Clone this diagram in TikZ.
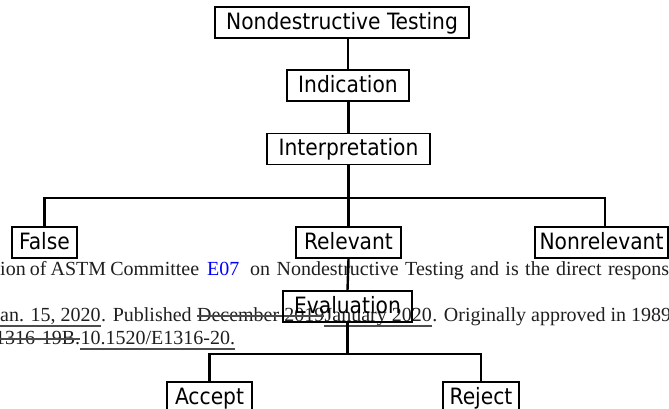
\documentclass[tikz,border=0pt]{standalone}
\usepackage{fontspec}
\setmainfont{Liberation Serif}
\newfontfamily\boxfont{DejaVu Sans Condensed}
\tikzset{
  box/.style={draw=black, line width=1.7pt, inner xsep=2pt, inner ysep=0pt,
    minimum height=31pt, text height=17pt, text depth=3.5pt,
    font=\boxfont\fontsize{22.5}{26}\selectfont},
  conn/.style={draw=black, line width=2.4pt},
  bgtext/.style={anchor=base west, inner sep=0pt, text=black!88,
    font=\fontsize{20}{24}\selectfont},
  markline/.style={draw=black!70, line width=1.2pt}
}
\begin{document}
\begin{tikzpicture}[x=1pt,y=-1pt]
\path[use as bounding box] (0,0) rectangle (669,408);
\clip (0,0) rectangle (669,408);
% background document text
\node[bgtext] (l1a) at (0,275) {\makebox[199pt][s]{ion of ASTM Committee}};
\node[bgtext, text=blue] (l1b) at (207,275) {E07};
\node[bgtext] (l1c) at (250,275) {\spaceskip=6.4pt plus 1pt on Nondestructive Testing and is the direct responsibility};
\node[bgtext] (l2a) at (-7.8,321) {Jan. 15, 2020};
\node[bgtext] (l2b) at (l2a.base east) {. Published};
\node[bgtext] (l2c) at ([xshift=5pt]l2b.base east) {December 2019};
\node[bgtext] (l2d) at (l2c.base east) {January 2020};
\node[bgtext] (l2e) at (l2d.base east) {. Originally approved in 1989. Last};
\node[bgtext] (l3a) at (-17.2,344) {E1316-19B.};
\node[bgtext] (l3b) at (l3a.base east) {10.1520/E1316-20.};
\draw[markline] ([yshift=-5pt]l2a.base west) -- ([yshift=-5pt]l2a.base east);
\draw[markline] ([yshift=5pt]l2c.base west) -- ([yshift=5pt]l2c.base east);
\draw[markline] ([yshift=-5pt]l2d.base west) -- ([yshift=-5pt]l2d.base east);
\draw[markline] ([yshift=5pt]l3a.base west) -- ([yshift=5pt]l3a.base east);
\draw[markline] ([yshift=-5pt]l3b.base west) -- ([yshift=-5pt]l3b.base east);
% diagram boxes
\node[box, minimum width=254pt] (ndt) at (342,22.5) {Nondestructive Testing};
\node[box, minimum width=122pt] (ind) at (348,85.5) {Indication};
\node[box, minimum width=163pt] (interp) at (348.5,149) {Interpretation};
\node[box, minimum width=65pt] (false) at (44.5,242.5) {False};
\node[box, minimum width=105pt] (rel) at (348.5,242.5) {Relevant};
\node[box, minimum width=133pt] (nonrel) at (601.5,242.5) {Nonrelevant};
\node[box, minimum width=129pt] (eval) at (347.5,306.5) {Evaluation};
\node[box, minimum width=85pt] (accept) at (209.5,397.5) {Accept};
\node[box, minimum width=76pt] (reject) at (481,397.5) {Reject};
% connectors
\coordinate (j1) at (348.5,198);
\coordinate (j1r) at (605,198);
\coordinate (j2) at (347.5,354);
\draw[conn] (ind.north) -- (ind.north |- ndt.south);
\draw[conn] (interp.north) -- (interp.north |- ind.south);
\draw[conn] (interp.south) -- (rel.north);
\draw[conn] (false.north) |- (j1) -- (j1r) -- (j1r |- nonrel.north);
\draw[conn] (rel.south) -- (eval.north);
\draw[conn] (eval.south) -- (j2);
\draw[conn] (accept.north) |- (j2) -| (reject.north);
\end{tikzpicture}
\end{document}
